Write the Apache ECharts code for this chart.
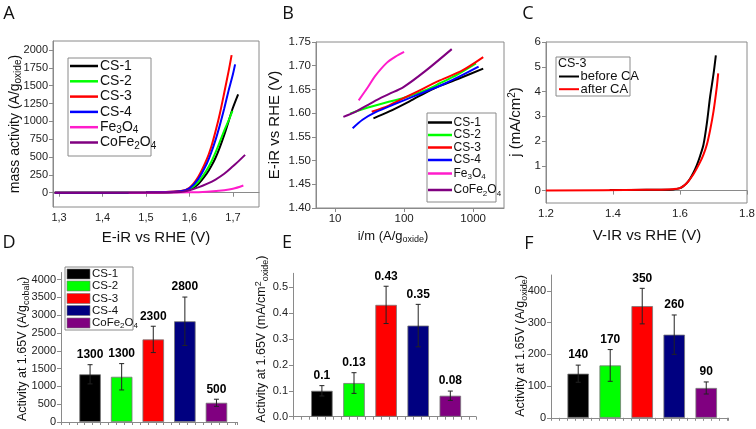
<!DOCTYPE html>
<html><head><meta charset="utf-8">
<script src="https://cdn.jsdelivr.net/npm/echarts@6/dist/echarts.min.js"></script>
<style>html,body{margin:0;padding:0;background:#fff}#c{width:756px;height:429px}</style>
</head><body><div id="c"></div>
<script>
// ---------- names & colours ----------
const lineNames = ['CS-1', 'CS-2', 'CS-3', 'CS-4', 'Fe3O4', 'CoFe2O4'];
const lineLabels = ['CS-1', 'CS-2', 'CS-3', 'CS-4', 'Fe{s|3}O{s|4}', 'CoFe{s|2}O{s|4}'];
const lineColors = ['#000000', '#00ff00', '#ff0000', '#0000ff', '#ff1ccb', '#800080'];

// ---------- Panel A: mass activity vs E-iR ----------
const aCS1x = [1.29, 1.50, 1.58, 1.60, 1.62, 1.64, 1.65, 1.66, 1.67, 1.68, 1.69, 1.70, 1.712];
const aCS1y = [0, 2, 15, 40, 120, 270, 370, 490, 640, 810, 1000, 1190, 1378];
const aCS2x = [1.29, 1.50, 1.58, 1.60, 1.62, 1.64, 1.65, 1.66, 1.67, 1.68, 1.69, 1.699];
const aCS2y = [0, 2, 18, 50, 150, 320, 430, 565, 715, 870, 1010, 1145];
const aCS3x = [1.29, 1.50, 1.58, 1.60, 1.62, 1.64, 1.65, 1.66, 1.67, 1.68, 1.69, 1.697];
const aCS3y = [0, 3, 25, 70, 220, 470, 640, 860, 1110, 1400, 1700, 1927];
const aCS4x = [1.29, 1.50, 1.58, 1.60, 1.62, 1.64, 1.65, 1.66, 1.67, 1.68, 1.69, 1.70, 1.705];
const aCS4y = [0, 3, 20, 60, 190, 410, 560, 740, 950, 1180, 1430, 1660, 1797];
const aFeX = [1.46, 1.55, 1.60, 1.64, 1.68, 1.70, 1.724];
const aFeY = [0, 2, 5, 15, 35, 55, 102];
const aCoX = [1.29, 1.50, 1.58, 1.60, 1.62, 1.64, 1.66, 1.68, 1.70, 1.71, 1.728];
const aCoY = [0, 2, 10, 35, 75, 125, 185, 265, 370, 425, 530];
const aYTicks = [0, 250, 500, 750, 1000, 1250, 1500, 1750, 2000];
const aXTicks = [1.3, 1.4, 1.5, 1.6, 1.7];

// ---------- Panel B: Tafel (E-iR vs i/m, log) ----------
const bCS1x = [36, 60, 120, 270, 600, 1400];
const bCS1y = [1.589, 1.603, 1.625, 1.652, 1.672, 1.694];
const bCS2x = [16.5, 30, 60, 98, 200, 330, 600, 1100];
const bCS2y = [1.599, 1.612, 1.624, 1.632, 1.648, 1.663, 1.682, 1.705];
const bCS3x = [34, 60, 100, 152, 330, 700, 1400];
const bCS3y = [1.603, 1.616, 1.632, 1.645, 1.669, 1.690, 1.718];
const bCS4x = [18, 25, 40, 70, 152, 400, 1200];
const bCS4y = [1.568, 1.586, 1.603, 1.618, 1.638, 1.663, 1.698];
const bFeX = [22, 30, 38, 56, 75, 100];
const bFeY = [1.627, 1.655, 1.678, 1.706, 1.719, 1.729];
const bCoX = [13.2, 20, 36, 60, 98, 200, 490];
const bCoY = [1.592, 1.603, 1.624, 1.640, 1.655, 1.688, 1.735];

// ---------- Panel C: CS-3 stability ----------
const cNames = ['before CA', 'after CA'];
const cColors = ['#000000', '#ff0000'];
const cBeforeX = [1.39, 1.50, 1.58, 1.60, 1.61, 1.62, 1.63, 1.64, 1.65, 1.66, 1.67, 1.68, 1.69, 1.70, 1.707];
const cBeforeY = [0.02, 0.03, 0.05, 0.10, 0.18, 0.30, 0.48, 0.72, 1.02, 1.40, 1.85, 2.70, 3.80, 4.70, 5.46];
const cAfterX = [1.20, 1.50, 1.58, 1.60, 1.62, 1.64, 1.66, 1.67, 1.68, 1.69, 1.70, 1.71, 1.714];
const cAfterY = [0.0, 0.03, 0.06, 0.10, 0.30, 0.66, 1.15, 1.45, 1.85, 2.45, 3.20, 4.20, 4.73];
const cYTicks = [0, 1, 2, 3, 4, 5, 6];

// ---------- Panels D, E, F: bars ----------
const barNames = ['CS-1', 'CS-2', 'CS-3', 'CS-4', 'CoFe2O4'];
const barLegend = ['CS-1', 'CS-2', 'CS-3', 'CS-4', 'CoFe{s|2}O{s|4}'];
const barColors = ['#000000', '#00ff00', '#ff0000', '#000080', '#800080'];
const dVals = [1340, 1270, 2320, 2830, 540];
const dErr = [270, 370, 370, 680, 100];
const dText = ['1300', '1300', '2300', '2800', '500'];
const eVals = [0.100, 0.130, 0.432, 0.352, 0.081];
const eErr = [0.020, 0.040, 0.072, 0.082, 0.018];
const eText = ['0.1', '0.13', '0.43', '0.35', '0.08'];
const fVals = [139, 165, 352, 262, 94];
const fErr = [27, 50, 56, 62, 19];
const fText = ['140', '170', '350', '260', '90'];

// ---------- build ----------
const FONT = 'Liberation Sans, Arial, sans-serif';
const axisGray = '#8a8a8a';
const zip = (xs, ys) => xs.map((x, i) => [x, ys[i]]);

const chart = echarts.init(document.getElementById('c'), null, {renderer: 'canvas'});

const grids = [
  {left: 53, top: 41, width: 206, height: 166, show: true, borderColor: axisGray, borderWidth: 1},
  {left: 316, top: 42, width: 188, height: 166, show: true, borderColor: axisGray, borderWidth: 1},
  {left: 546, top: 42, width: 201, height: 161, show: true, borderColor: axisGray, borderWidth: 1},
  {left: 61, top: 272.5, width: 176, height: 149.5},
  {left: 293, top: 273.3, width: 183, height: 143.4},
  {left: 551, top: 275, width: 177, height: 142.8}
].map(g => Object.assign({containLabel: false, outerBoundsMode: 'none'}, g));

const lab = (size) => ({color: '#222', fontFamily: FONT, fontSize: size || 11, margin: 5});
const line = {show: true, lineStyle: {color: axisGray, width: 1}};
const tick = (len) => ({show: true, length: len || 4, lineStyle: {color: axisGray}});
const plain = v => String(v);

const xAxis = [
  {gridIndex: 0, type: 'value', min: 1.286, max: 1.76, axisLine: line, splitLine: {show: false},
   axisTick: Object.assign(tick(), {customValues: aXTicks}),
   axisLabel: Object.assign(lab(11), {customValues: aXTicks, formatter: v => v.toFixed(1).replace('.', ',')})},
  {gridIndex: 1, type: 'log', logBase: 10, min: 5.3, max: 2800, axisLine: line, splitLine: {show: false},
   axisTick: tick(), axisLabel: Object.assign(lab(11.5), {showMinLabel: false, showMaxLabel: false, formatter: v => String(Math.round(v))})},
  {gridIndex: 2, type: 'value', min: 1.2, max: 1.8, interval: 0.2, axisLine: line, splitLine: {show: false},
   axisTick: tick(), axisLabel: Object.assign(lab(11.5), {formatter: v => v.toFixed(1)})},
  {gridIndex: 3, type: 'value', min: 0.08, max: 5.65, interval: 0.25, axisLine: line, splitLine: {show: false},
   axisTick: tick(3), axisLabel: {show: false}},
  {gridIndex: 4, type: 'value', min: 0.1, max: 5.8, interval: 0.25, axisLine: line, splitLine: {show: false},
   axisTick: tick(3), axisLabel: {show: false}},
  {gridIndex: 5, type: 'value', min: 0.15, max: 5.68, interval: 0.25, axisLine: line, splitLine: {show: false},
   axisTick: tick(3), axisLabel: {show: false}}
];

const yAxis = [
  {gridIndex: 0, type: 'value', min: -200, max: 2125, axisLine: line, splitLine: {show: false},
   axisTick: Object.assign(tick(), {customValues: aYTicks}),
   axisLabel: Object.assign(lab(11), {customValues: aYTicks, formatter: plain})},
  {gridIndex: 1, type: 'value', min: 1.40, max: 1.75, interval: 0.05, axisLine: line, splitLine: {show: false},
   axisTick: tick(), axisLabel: Object.assign(lab(11.5), {formatter: v => v.toFixed(2)})},
  {gridIndex: 2, type: 'value', min: -0.5, max: 6, axisLine: line, splitLine: {show: false},
   axisTick: Object.assign(tick(), {customValues: cYTicks}),
   axisLabel: Object.assign(lab(11.5), {customValues: cYTicks, formatter: plain})},
  {gridIndex: 3, type: 'value', min: 0, max: 4200, interval: 500, axisLine: line, splitLine: {show: false},
   axisTick: tick(), axisLabel: Object.assign(lab(11), {showMaxLabel: false, formatter: plain})},
  {gridIndex: 4, type: 'value', min: 0, max: 0.554, interval: 0.1, axisLine: line, splitLine: {show: false},
   axisTick: tick(), axisLabel: Object.assign(lab(11), {formatter: v => v.toFixed(1), showMaxLabel: false})},
  {gridIndex: 5, type: 'value', min: 0, max: 450, interval: 100, axisLine: line, splitLine: {show: false},
   axisTick: tick(), axisLabel: Object.assign(lab(11), {showMaxLabel: false, formatter: plain})}
];

const series = [];
const aData = [[aCS1x, aCS1y], [aCS2x, aCS2y], [aCS3x, aCS3y], [aCS4x, aCS4y], [aFeX, aFeY], [aCoX, aCoY]];
const bData = [[bCS1x, bCS1y], [bCS2x, bCS2y], [bCS3x, bCS3y], [bCS4x, bCS4y], [bFeX, bFeY], [bCoX, bCoY]];
aData.forEach((d, i) => series.push({
  type: 'line', name: lineNames[i], xAxisIndex: 0, yAxisIndex: 0, data: zip(d[0], d[1]),
  showSymbol: false, smooth: 0.3, lineStyle: {color: lineColors[i], width: 2}, z: 3
}));
bData.forEach((d, i) => series.push({
  type: 'line', name: lineNames[i], xAxisIndex: 1, yAxisIndex: 1, data: zip(d[0], d[1]),
  showSymbol: false, smooth: 0.3, lineStyle: {color: lineColors[i], width: 2}, z: 3
}));
[[cBeforeX, cBeforeY], [cAfterX, cAfterY]].forEach((d, i) => series.push({
  type: 'line', name: cNames[i], xAxisIndex: 2, yAxisIndex: 2, data: zip(d[0], d[1]),
  showSymbol: false, smooth: 0.3, lineStyle: {color: cColors[i], width: 2}, z: 3
}));

function barPanel(idx, vals, errs, texts) {
  series.push({
    type: 'bar', xAxisIndex: idx, yAxisIndex: idx, barWidth: 21.5,
    data: vals.map((v, i) => ({value: [i + 1, v], name: barNames[i],
      itemStyle: {color: barColors[i], borderColor: '#777', borderWidth: 0.8}}))
  });
  series.push({
    type: 'custom', xAxisIndex: idx, yAxisIndex: idx, z: 5,
    data: vals.map((v, i) => [i + 1, v, errs[i]]),
    renderItem: (params, api) => {
      const x = api.value(0), v = api.value(1), e = api.value(2);
      const t = api.coord([x, v + e]), b = api.coord([x, v - e]);
      const st = {stroke: '#222', lineWidth: 1};
      return {type: 'group', children: [
        {type: 'line', shape: {x1: t[0], y1: t[1], x2: b[0], y2: b[1]}, style: st},
        {type: 'line', shape: {x1: t[0] - 2.5, y1: t[1], x2: t[0] + 2.5, y2: t[1]}, style: st},
        {type: 'line', shape: {x1: b[0] - 2.5, y1: b[1], x2: b[0] + 2.5, y2: b[1]}, style: st},
        {type: 'text', x: t[0], y: t[1] - 10, style: {text: texts[params.dataIndex],
          fontFamily: FONT, fontWeight: 'bold', fontSize: 12, fill: '#000', align: 'center', verticalAlign: 'middle'}}
      ]};
    }
  });
}
barPanel(3, dVals, dErr, dText);
barPanel(4, eVals, eErr, eText);
barPanel(5, fVals, fErr, fText);

// ---------- graphic: panel letters, axis titles, legends ----------
const g = [];
const richFor = (size) => ({
  n: {fontFamily: FONT, fontSize: size, fill: '#111', lineHeight: size + 3},
  s: {fontFamily: FONT, fontSize: Math.round(size * 0.68), fill: '#111', verticalAlign: 'bottom'},
  p: {fontFamily: FONT, fontSize: Math.round(size * 0.68), fill: '#111', verticalAlign: 'top'}
});
const rtxt = (x, y, text, size, rot, align) => ({
  type: 'text', x: x, y: y, z: 10, rotation: rot || 0,
  style: {text: text, rich: richFor(size), fontFamily: FONT, fontSize: size, fill: '#111',
    align: align || 'center', verticalAlign: 'middle'}
});
const wrapRich = t => '{n|' + t.replace(/\{s\|(\d)\}/g, '}{s|$1}{n|') + '}';
const LET = 'Open Sans, Liberation Sans, sans-serif';
[['A', 9, 14], ['B', 288, 14], ['C', 528, 14], ['D', 9, 243], ['E', 287, 243], ['F', 529, 244]].forEach(p =>
  g.push({type: 'text', x: p[1], y: p[2], z: 10, style: {text: p[0], fontFamily: LET, fontSize: 18, fill: '#111', align: 'center', verticalAlign: 'middle'}}));

// axis titles
g.push(rtxt(15, 124, '{n|mass activity (A/g}{s|oxide}{n|)}', 14, Math.PI / 2));
g.push(rtxt(156, 238, '{n|E-iR vs RHE (V)}', 15));
g.push(rtxt(275, 125, '{n|E-iR vs RHE (V)}', 15, Math.PI / 2));
g.push(rtxt(393, 236, '{n|i/m (A/g}{s|oxide}{n|)}', 13));
g.push(rtxt(516, 122, '{n|j (mA/cm}{p|2}{n|)}', 15, Math.PI / 2));
g.push(rtxt(647, 236, '{n|V-IR vs RHE (V)}', 15));
g.push(rtxt(23, 349, '{n|Activity at 1.65V (A/g}{s|cobalt}{n|)}', 12.5, Math.PI / 2));
g.push(rtxt(262, 339, '{n|Activity at 1.65V (mA/cm}{p|2}{s|oxide}{n|)}', 12.5, Math.PI / 2));
g.push(rtxt(521, 346, '{n|Activity at 1.65V (A/g}{s|oxide}{n|)}', 12.5, Math.PI / 2));

// legend A
g.push({type: 'rect', z: 9, shape: {x: 68, y: 58, width: 83, height: 98}, style: {fill: '#fff', stroke: axisGray, lineWidth: 1}});
lineLabels.forEach((t, i) => {
  const y = 66 + 15.3 * i;
  g.push({type: 'line', z: 10, shape: {x1: 70, y1: y, x2: 98, y2: y}, style: {stroke: lineColors[i], lineWidth: 2.5}});
  g.push(rtxt(100, y, wrapRich(t), 14, 0, 'left'));
});
// legend B
g.push({type: 'rect', z: 9, shape: {x: 427, y: 113, width: 69, height: 89}, style: {fill: '#fff', stroke: axisGray, lineWidth: 1}});
[122.5, 135, 147.5, 160, 173.5, 190].forEach((y, i) => {
  g.push({type: 'line', z: 10, shape: {x1: 428, y1: y, x2: 452, y2: y}, style: {stroke: lineColors[i], lineWidth: 2.5}});
  g.push(rtxt(453.5, y, wrapRich(lineLabels[i]), 12, 0, 'left'));
});
// legend C
g.push({type: 'rect', z: 9, shape: {x: 556, y: 57, width: 74, height: 39}, style: {fill: '#fff', stroke: axisGray, lineWidth: 1}});
g.push(rtxt(558, 63.5, '{n|CS-3}', 12.5, 0, 'left'));
cNames.forEach((t, i) => {
  const y = 76.5 + 12.7 * i;
  g.push({type: 'line', z: 10, shape: {x1: 559, y1: y, x2: 579, y2: y}, style: {stroke: cColors[i], lineWidth: 2}});
  g.push(rtxt(580.5, y, '{n|' + t + '}', 13, 0, 'left'));
});
// legend D
g.push({type: 'rect', z: 9, shape: {x: 65, y: 267, width: 68, height: 63}, style: {fill: '#fff', stroke: axisGray, lineWidth: 1}});
[274, 286, 298.5, 310.5, 323].forEach((y, i) => {
  g.push({type: 'rect', z: 10, shape: {x: 67, y: y - 5, width: 23, height: 10}, style: {fill: barColors[i], stroke: '#777', lineWidth: 0.6}});
  g.push(rtxt(92, y, wrapRich(barLegend[i]), 11.5, 0, 'left'));
});

chart.setOption({
  animation: false,
  backgroundColor: '#ffffff',
  textStyle: {fontFamily: FONT},
  grid: grids, xAxis: xAxis, yAxis: yAxis, series: series, graphic: g
});
</script></body></html>
